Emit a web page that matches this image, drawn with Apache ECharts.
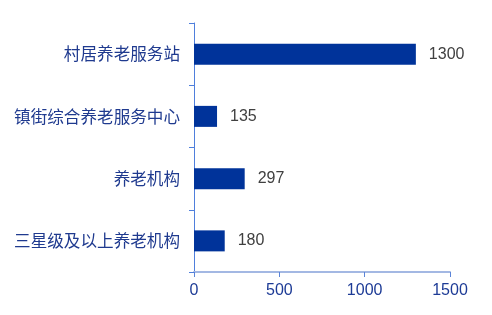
<!DOCTYPE html>
<html>
<head>
<meta charset="utf-8">
<script src="https://cdn.jsdelivr.net/npm/echarts@6/dist/echarts.min.js"></script>
<style>
  html, body { margin: 0; padding: 0; background: #ffffff; }
  #chart { width: 492px; height: 315px; }
</style>
</head>
<body>
<div id="chart"></div>
<script>
// Facility categories, listed bottom to top as the category axis draws them
const categories = ['三星级及以上养老机构', '养老机构', '镇街综合养老服务中心', '村居养老服务站'];
const counts = [180, 297, 135, 1300];
const xTicks = [0, 500, 1000, 1500];

const chart = echarts.init(document.getElementById('chart'), null, { renderer: 'canvas' });

chart.setOption({
  animation: false,
  grid: { left: 194, right: 42, top: 23, bottom: 43, containLabel: false },
  xAxis: {
    type: 'value',
    min: xTicks[0],
    max: xTicks[xTicks.length - 1],
    interval: xTicks[1] - xTicks[0],
    axisLine: { show: true, lineStyle: { color: '#a3b8e3', width: 2 } },
    axisTick: { show: true, inside: false, length: 5, lineStyle: { color: '#5b84d8', width: 1 } },
    splitLine: { show: false },
    axisLabel: {
      margin: 11,
      color: '#1d3b96',
      fontSize: 16,
      fontFamily: 'Liberation Sans, Arial, sans-serif',
      formatter: (v) => String(v)
    }
  },
  yAxis: {
    type: 'category',
    data: categories,
    axisLine: { show: true, onZero: false, lineStyle: { color: '#4f7fdc', width: 1 } },
    axisTick: { show: true, length: 5, alignWithLabel: false, lineStyle: { color: '#4f7fdc', width: 1 } },
    axisLabel: {
      margin: 14,
      color: '#1f3a8f',
      fontSize: 16.6,
      fontFamily: 'Noto Sans CJK SC, sans-serif'
    }
  },
  series: [{
    type: 'bar',
    data: counts,
    barWidth: 21,
    itemStyle: { color: '#00339a' },
    label: {
      show: true,
      position: 'right',
      distance: 13,
      color: '#404040',
      fontSize: 16,
      fontFamily: 'Liberation Sans, Arial, sans-serif'
    }
  }]
});
</script>
</body>
</html>
